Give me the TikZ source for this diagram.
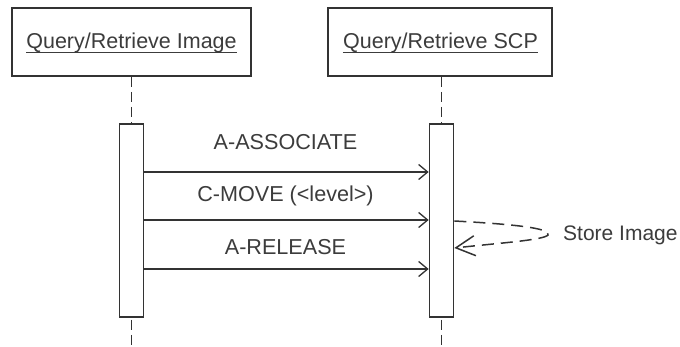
\documentclass[tikz,border=0pt]{standalone}
\usepackage{fontspec}
\setmainfont{Liberation Sans}
\usetikzlibrary{arrows.meta}
\definecolor{ink}{HTML}{333333}
\definecolor{txt}{HTML}{3C3C3C}
\begin{document}
\begin{tikzpicture}[x=1pt,y=-1pt,
  actorbox/.style={draw=ink,line width=1.9pt,fill=white,minimum width=239pt,minimum height=68pt,inner sep=0pt},
  titletext/.style={text=txt,inner sep=0pt,anchor=base,font=\fontsize{21.5}{25}\selectfont},
  uline/.style={draw=txt,line width=1pt},
  actbar/.style={draw=ink,line width=1.7pt,fill=white,minimum width=24pt,minimum height=193pt,inner sep=0pt},
  lifeline/.style={draw=ink,line width=1.9pt,dash pattern=on 10pt off 5pt},
  msg/.style={draw=ink,line width=1.3pt,-{Straight Barb[length=9pt,width=15pt,line width=1.3pt]}},
  selfmsg/.style={draw=ink,line width=1.5pt,dash pattern=on 12pt off 7pt,-{Straight Barb[length=19pt,width=20pt,line width=1.5pt]}},
  msglabel/.style={text=txt,inner sep=0pt,anchor=base,font=\fontsize{21.6}{25}\selectfont}]
\useasboundingbox (0,0) rectangle (680,347);
\fill[white] (0,0) rectangle (680,347);
% actors
\node[actorbox] (A) at (131.5,42) {};
\node[actorbox, minimum width=224pt] (B) at (440,42) {};
\node[titletext] (At) at (131.5,48.5) {Query/Retrieve Image};
\node[titletext] (Bt) at (440.5,48.5) {Query/Retrieve SCP};
\draw[uline] ([yshift=-4.5pt]At.base west) -- ([yshift=-4.5pt]At.base east);
\draw[uline] ([yshift=-4.5pt]Bt.base west) -- ([yshift=-4.5pt]Bt.base east);
% activation bars
\node[actbar] (Ab) at (131.5,220.5) {};
\node[actbar] (Bb) at (441.5,220.5) {};
% lifelines
\coordinate (Aend) at (131.5,347);
\coordinate (Bend) at (441.5,347);
\draw[lifeline] (A.south) -- (Ab.north);
\draw[lifeline] (B.south -| Bb.north) -- (Bb.north);
\draw[lifeline] ([yshift=-2pt]Ab.south) -- (Aend);
\draw[lifeline] ([yshift=-2pt]Bb.south) -- (Bend);
% messages
\coordinate (m1) at (0,172);
\coordinate (m2) at (0,220);
\coordinate (m3) at (0,269);
\draw[msg] (Ab.east |- m1) -- (Bb.west |- m1);
\draw[msg] (Ab.east |- m2) -- (Bb.west |- m2);
\draw[msg] (Ab.east |- m3) -- (Bb.west |- m3);
\node[msglabel] (l1) at (285.5,150) {A-ASSOCIATE};
\node[msglabel] (l2) at (285.5,202) {C-MOVE (<level>)};
\node[msglabel] (l3) at (285.5,254.5) {A-RELEASE};
% self message
\coordinate (s1) at (0,221);
\coordinate (s2) at (0,248);
\draw[selfmsg] (Bb.east |- s1) .. controls (510,224) and (552,228) .. (548,235)
  .. controls (544,240) and (500,243) .. (Bb.east |- s2);
\node[msglabel, anchor=base west, font=\fontsize{21}{25}\selectfont] (l4) at (563,240.5) {Store Image};
\end{tikzpicture}
\end{document}
